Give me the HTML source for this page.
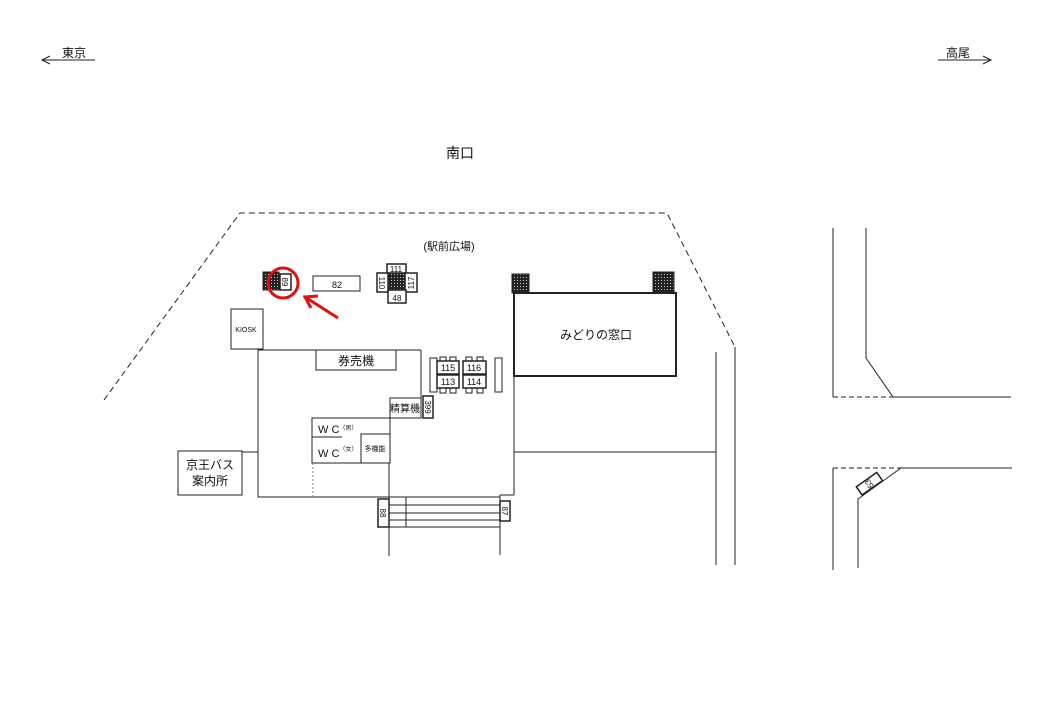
<!DOCTYPE html>
<html><head><meta charset="utf-8"><style>
html,body{margin:0;padding:0;background:#fff;}
svg{display:block;font-family:"Liberation Sans","Noto Sans CJK JP",sans-serif;}
</style></head><body>
<svg width="1040" height="720" viewBox="0 0 1040 720" xmlns="http://www.w3.org/2000/svg">
<defs>
<pattern id="h" width="3" height="3" patternUnits="userSpaceOnUse"><rect width="3" height="3" fill="#222"/><rect x="1" y="1" width="1" height="1" fill="#ccc"/></pattern>
</defs>
<g stroke="#222" fill="none" stroke-width="1">
<!-- top arrows -->
<line x1="42" y1="60" x2="95" y2="60"/><polyline points="50,56 42,60 50,64"/>
<line x1="938" y1="60" x2="991" y2="60"/><polyline points="983,56 991,60 983,64"/>
<!-- dashed plaza -->
<polyline points="104,400 240,213 667,213 735,347" stroke-dasharray="6,4"/>
<!-- hatched -->
<rect x="263" y="272" width="16" height="18" fill="url(#h)"/>
<rect x="280" y="274" width="11" height="16" fill="#fff" stroke-width="1.5"/>
<rect x="313" y="276" width="47" height="15"/>
<rect x="388" y="272" width="17" height="18" fill="url(#h)"/>
<rect x="387" y="264" width="19" height="9" fill="#fff" stroke-width="1.5"/>
<rect x="377" y="273" width="11" height="19" fill="#fff" stroke-width="1.5"/>
<rect x="405" y="273" width="12" height="19" fill="#fff" stroke-width="1.5"/>
<rect x="388" y="290" width="18" height="13" fill="#fff" stroke-width="1.5"/>
<rect x="512" y="274" width="17" height="19" fill="url(#h)"/>
<rect x="653" y="272" width="21" height="21" fill="url(#h)"/>
<rect x="514" y="293" width="162" height="83" stroke-width="2"/>
<!-- kiosk -->
<rect x="231" y="309" width="32" height="40"/>
<!-- building -->
<polyline points="258,349 258,497 500,497"/>
<line x1="258" y1="350" x2="421" y2="350"/>
<line x1="421" y1="350" x2="421" y2="418"/>
<rect x="316" y="350" width="80" height="20"/>
<rect x="390" y="398" width="31" height="20"/>
<rect x="423" y="396" width="10" height="22" stroke-width="1.5"/>
<rect x="312" y="418" width="78" height="45"/>
<line x1="312" y1="437" x2="342" y2="437"/>
<rect x="361" y="434" width="29" height="29"/>
<line x1="313" y1="463" x2="313" y2="497" stroke-dasharray="2,2" stroke="#888"/>
<line x1="389" y1="463" x2="389" y2="556"/>
<line x1="406" y1="497" x2="406" y2="527"/>
<line x1="389" y1="505" x2="500" y2="505"/>
<line x1="389" y1="513" x2="500" y2="513"/>
<line x1="389" y1="520" x2="500" y2="520"/>
<line x1="389" y1="527" x2="500" y2="527"/>
<line x1="500" y1="495" x2="500" y2="555"/>
<line x1="500" y1="495" x2="514" y2="495"/>
<rect x="378" y="499" width="11" height="28" stroke-width="1.5" fill="#fff"/>
<rect x="500" y="501" width="10" height="20" stroke-width="1.5" fill="#fff"/>
<line x1="514" y1="293" x2="514" y2="495"/>
<line x1="514" y1="452" x2="716" y2="452"/>
<line x1="242" y1="452" x2="258" y2="452"/>
<rect x="178" y="451" width="64" height="44"/>
<!-- ticket machines -->
<rect x="430" y="358" width="7" height="34"/>
<rect x="495" y="358" width="7" height="34"/>
<rect x="440" y="357" width="6" height="36"/><rect x="450" y="357" width="6" height="36"/>
<rect x="466" y="357" width="6" height="36"/><rect x="477" y="357" width="6" height="36"/>
<rect x="437" y="361" width="22" height="13" fill="#fff" stroke-width="1.5"/>
<rect x="463" y="361" width="23" height="13" fill="#fff" stroke-width="1.5"/>
<rect x="437" y="375" width="22" height="13" fill="#fff" stroke-width="1.5"/>
<rect x="463" y="375" width="23" height="13" fill="#fff" stroke-width="1.5"/>
<!-- right lines -->
<line x1="716" y1="352" x2="716" y2="565"/>
<line x1="735" y1="347" x2="735" y2="565"/>
<line x1="833" y1="228" x2="833" y2="397"/>
<polyline points="866,228 866,358 893,397 1011,397"/>
<line x1="833" y1="397" x2="893" y2="397" stroke-dasharray="5,3"/>
<line x1="833" y1="468" x2="901" y2="468" stroke-dasharray="5,3"/>
<line x1="833" y1="468" x2="833" y2="570"/>
<line x1="901" y1="468" x2="1012" y2="468"/>
<polyline points="901,468 858,499 858,568"/>
<rect x="857" y="479" width="25" height="10" transform="rotate(-35 869 484)" fill="#fff" stroke-width="1.5"/>
</g>
<!-- red -->
<circle cx="283" cy="283" r="15" fill="none" stroke="#e01010" stroke-width="3"/>
<g stroke="#e01010" stroke-width="3" fill="none"><line x1="338" y1="318" x2="305" y2="297"/><polyline points="318,296 305,297 311,308"/></g>
<g fill="#111" text-anchor="middle">
<text x="74" y="57" font-size="12">東京</text>
<text x="958" y="57" font-size="12">高尾</text>
<text x="460" y="158" font-size="14">南口</text>
<text x="449" y="250" font-size="11">(駅前広場)</text>
<text x="337" y="288" font-size="9">82</text>
<text x="246" y="332" font-size="7">KIOSK</text>
<text x="596" y="339" font-size="12">みどりの窓口</text>
<text x="356" y="365" font-size="12">券売機</text>
<text x="405" y="412" font-size="10">精算機</text>
<text x="448" y="371" font-size="9">115</text><text x="474" y="371" font-size="9">116</text>
<text x="448" y="385" font-size="9">113</text><text x="474" y="385" font-size="9">114</text>
<text x="396" y="272" font-size="8">111</text>
<text x="397" y="301" font-size="8">48</text>
<text x="210" y="469" font-size="12">京王バス</text>
<text x="210" y="485" font-size="12">案内所</text>
<text x="375" y="451" font-size="7">多機能</text>
</g>
<g fill="#111" font-size="11">
<text x="318" y="433">W C<tspan font-size="6" dy="-3">（男）</tspan></text>
<text x="318" y="457">W C<tspan font-size="6" dy="-6">（女）</tspan></text>
</g>
<g fill="#111" font-size="8" text-anchor="middle">
<text transform="translate(285,282) rotate(90)" y="3">89</text>
<text transform="translate(382,283) rotate(90)" y="3">110</text>
<text transform="translate(411,283) rotate(-90)" y="3">117</text>
<text transform="translate(428,407) rotate(90)" y="3">399</text>
<text transform="translate(383,513) rotate(90)" y="3">88</text>
<text transform="translate(505,511) rotate(90)" y="3">87</text>
<text transform="translate(869,484) rotate(-125)" y="3">53</text>
</g>
</svg>
</body></html>
